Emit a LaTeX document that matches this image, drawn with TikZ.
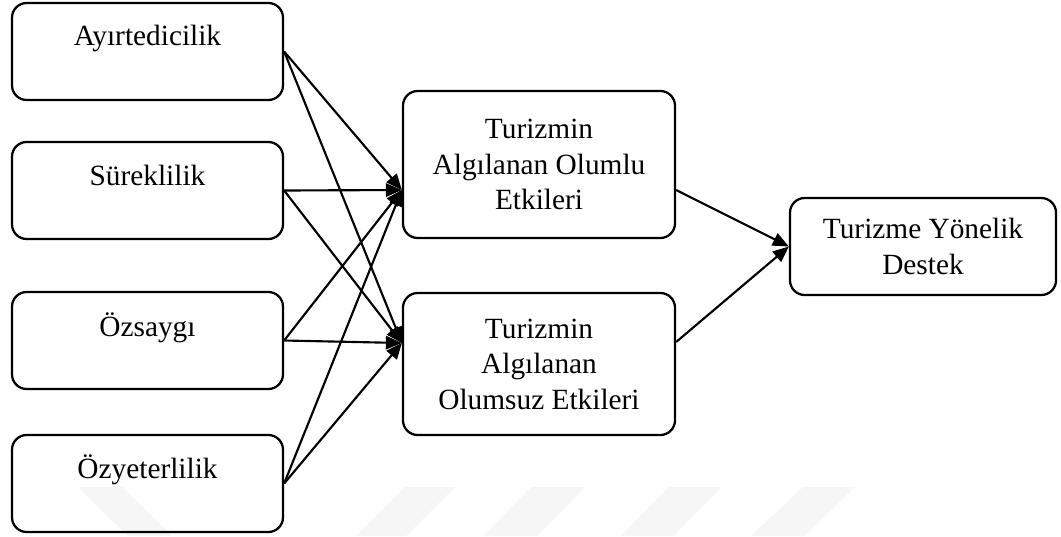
\documentclass[tikz,border=0pt]{standalone}
\usepackage{fontspec}
\setmainfont{Liberation Serif}
\usetikzlibrary{arrows.meta,calc}
\begin{document}
\begin{tikzpicture}[x=0.75pt,y=-0.75pt,
  box/.style={draw,line width=1.7pt,rounded corners=11pt,inner sep=0pt},
  lbox/.style={box,minimum width=271*0.75pt,minimum height=97*0.75pt},
  mbox/.style={box,minimum width=272*0.75pt,align=center},
  lbl/.style={anchor=base,inner sep=0pt},
  link/.style={line width=1.6pt,-{Triangle[length=12pt,width=10pt]}},
  stripe/.style={fill=gray!7,draw=none}]
  \useasboundingbox (0,0) rectangle (1061,536);
  \fontsize{22pt}{26.6pt}\selectfont

  % faint background stripes
  \fill[stripe] (78,487) -- (122,487) -- (172,536) -- (128,536) -- cycle;
  \fill[stripe] (405,487) -- (455,487) -- (406,536) -- (356,536) -- cycle;
  \fill[stripe] (531,487) -- (585,487) -- (537,536) -- (483,536) -- cycle;
  \fill[stripe] (669,487) -- (722,487) -- (674,536) -- (621,536) -- cycle;
  \fill[stripe] (803,487) -- (855,487) -- (805,536) -- (751,536) -- cycle;

  % antecedents
  \node[lbox] (a1) at (147.5,51.5) {};
  \node[lbox] (a2) at (147.5,190.5) {};
  \node[lbox] (a3) at (147.5,340.5) {};
  \node[lbox] (a4) at (147.5,483.5) {};
  \node[lbl] (t1) at (147.5,45) {Ayırtedicilik};
  \node[lbl] (t2) at (147.5,185) {Süreklilik};
  \node[lbl] (t3) at (147.5,336) {Özsaygı};
  \node[lbl] (t4) at (147.5,478) {Özyeterlilik};

  % perceived impacts
  \node[mbox,minimum height=147*0.75pt] (pos) at (539,164.5)
    {Turizmin\\Algılanan Olumlu\\Etkileri};
  \node[mbox,minimum height=142*0.75pt] (neg) at (539,364)
    {Turizmin\\Algılanan\\Olumsuz Etkileri};

  % outcome
  \node[box,minimum width=266*0.75pt,minimum height=97*0.75pt,align=center]
    (sup) at (923,246.5) {Turizme Yönelik\\Destek};

  % connection points
  \coordinate (pin) at ($(pos.west)+(0,25.5)$);
  \coordinate (nin) at ($(neg.west)+(0,-21)$);
  \coordinate (pout) at ($(pos.east)+(0,25.5)$);
  \coordinate (nout) at ($(neg.east)+(0,-22)$);

  \foreach \s in {a1,a2,a3,a4}{
    \draw[link] (\s.east) -- (pin);
    \draw[link] (\s.east) -- (nin);
  }
  \draw[link] (pout) -- (sup.west);
  \draw[link] (nout) -- (sup.west);
\end{tikzpicture}
\end{document}
